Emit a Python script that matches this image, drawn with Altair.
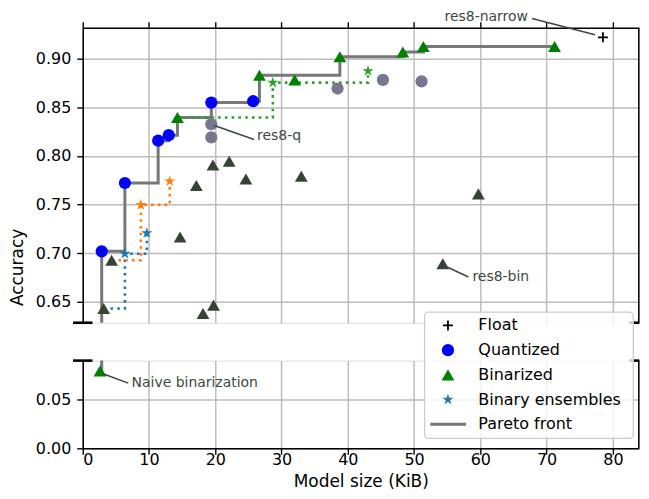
import altair as alt
import pandas as pd

# ---------------- data ----------------
x_ticks = [0, 10, 20, 30, 40, 50, 60, 70, 80]
top_y_ticks = [0.65, 0.70, 0.75, 0.80, 0.85, 0.90]
bottom_y_ticks = [0.00, 0.05]

float_x = [78.5]
float_y = [0.922]

quant_x = [2.86, 6.36, 11.38, 12.98, 19.40, 25.71]
quant_y = [0.7019, 0.7722, 0.8157, 0.8214, 0.8549, 0.8563]

quant_other_x = [19.40, 19.40, 38.45, 45.3, 51.13]
quant_other_y = [0.8327, 0.8191, 0.8693, 0.8782, 0.8767]

bin_x = [14.29, 26.66, 31.98, 38.8, 48.3, 51.4, 71.2]
bin_y = [0.8395, 0.8829, 0.8782, 0.902, 0.9069, 0.9126, 0.9126]

naive_x = [2.6]
naive_y = [0.0793]

bin_other_x = [19.65, 22.1, 17.14, 24.62, 32.98, 14.69, 4.36, 3.16, 18.15, 19.74, 59.7, 54.33]
bin_other_y = [0.7907, 0.7945, 0.7696, 0.7763, 0.7791, 0.7166, 0.6927, 0.6431, 0.6380, 0.6466, 0.761, 0.6892]

# binary ensembles: first entry is the base binarized model the chain starts from
ens_blue_x = [3.16, 6.36, 9.67]
ens_blue_y = [0.6431, 0.6995, 0.7207]
ens_orange_x = [4.36, 8.77, 13.13]
ens_orange_y = [0.6927, 0.7497, 0.774]
ens_green_x = [14.29, 28.68, 43.05]
ens_green_y = [0.8395, 0.8754, 0.8874]

pareto_x = [2.6, 2.86, 6.36, 11.38, 12.98, 14.29, 19.40, 25.71, 26.66, 38.8, 48.3, 51.4, 71.2]
pareto_y = [0.0793, 0.7019, 0.7722, 0.8157, 0.8214, 0.8395, 0.8549, 0.8563, 0.8829, 0.902, 0.9069, 0.9126, 0.9126]

annot_labels = ["res8-narrow", "res8-q", "res8-bin"]
annot_px = [77.3, 19.85, 54.99]
annot_py = [0.9246, 0.8314, 0.6859]
annot_lx = [67.8, 25.86, 58.2]
annot_ly = [0.9413, 0.817, 0.6756]
annot_tx = [54.6, 26.3, 58.8]
annot_ty = [0.9431, 0.8201, 0.6756]

naive_label = ["Naive binarization"]
naive_px = [2.86]
naive_py = [0.0771]
naive_lx = [6.87]
naive_ly = [0.0669]
naive_tx = [7.37]
naive_ty = [0.0666]

legend_labels = ["Float", "Quantized", "Binarized", "Binary ensembles", "Pareto front"]

# ---------------- styles ----------------
W = 558
H_TOP = 296
H_BOT = 88
FONT = "DejaVu Sans"
ANN = "#3c4a3e"
STAR = "M0,-1L0.225,-0.309L0.951,-0.309L0.363,0.118L0.588,0.809L0,0.382L-0.588,0.809L-0.363,0.118L-0.951,-0.309L-0.225,-0.309Z"
PLUS = "M-1,0L1,0M0,-1L0,1"
GRID = "#bcbcbc"

xscale = alt.Scale(domain=[0, 83.91], nice=False, zero=False)
ytop_scale = alt.Scale(domain=[0.6285, 0.9318], nice=False, zero=False)
ybot_scale = alt.Scale(domain=[0, 0.09], nice=False, zero=False)

common_axis = dict(grid=True, gridColor=GRID, gridWidth=1.5, domainColor="black", domainWidth=1.5,
                   tickColor="black", tickWidth=1.4, tickSize=6, labelFontSize=16, labelColor="black",
                   labelFont=FONT, titleFont=FONT, titleFontSize=17, titleFontWeight="normal",
                   titleColor="black")

xaxis_top = alt.Axis(orient="top", values=x_ticks, labels=False, title=None, **common_axis)
xaxis_bot = alt.Axis(orient="bottom", values=x_ticks, title="Model size (KiB)", labelPadding=-3,
                     titlePadding=6.5, **common_axis)
yaxis_top = alt.Axis(values=top_y_ticks, format=".2f", title="Accuracy", titleX=-65, titleY=240,
                     titleBaseline="middle", titleAngle=270, labelPadding=6, **common_axis)
yaxis_bot = alt.Axis(values=bottom_y_ticks, format=".2f", title=None, labelPadding=6, **common_axis)


def enc(panel, xf="x", yf="y"):
    if panel == "top":
        return dict(x=alt.X(xf, type="quantitative", scale=xscale, axis=xaxis_top),
                    y=alt.Y(yf, type="quantitative", scale=ytop_scale, axis=yaxis_top))
    return dict(x=alt.X(xf, type="quantitative", scale=xscale, axis=xaxis_bot),
                y=alt.Y(yf, type="quantitative", scale=ybot_scale, axis=yaxis_bot))


def df(xs, ys):
    return pd.DataFrame({"x": xs, "y": ys})


one = pd.DataFrame({"k": [0]})


def panel_layers(panel):
    layers = []
    # Pareto front
    layers.append(alt.Chart(df(pareto_x, pareto_y)).mark_line(
        interpolate="step-after", color="#777777", strokeWidth=3, clip=True).encode(**enc(panel)))
    if panel == "top":
        for xs, ys, col in [(ens_blue_x, ens_blue_y, "#1f77b4"),
                            (ens_orange_x, ens_orange_y, "#ff7f0e"),
                            (ens_green_x, ens_green_y, "#2ca02c")]:
            layers.append(alt.Chart(df(xs, ys)).mark_line(
                interpolate="step-after", color=col, strokeWidth=2.6, strokeDash=[2.6, 4.2],
                clip=True).encode(**enc(panel)))
        layers.append(alt.Chart(df(quant_other_x, quant_other_y)).mark_point(
            shape="circle", filled=True, size=150, color="#77778f", opacity=1).encode(**enc(panel)))
        layers.append(alt.Chart(df(bin_other_x, bin_other_y)).mark_point(
            shape="triangle-up", filled=True, size=165, color="#364436", opacity=1).encode(**enc(panel)))
        for xs, ys, col in [(ens_blue_x, ens_blue_y, "#1f77b4"),
                            (ens_orange_x, ens_orange_y, "#ff7f0e"),
                            (ens_green_x, ens_green_y, "#2ca02c")]:
            layers.append(alt.Chart(df(xs[1:], ys[1:])).mark_point(
                shape=STAR, filled=True, size=140, color=col, opacity=1).encode(**enc(panel)))
        layers.append(alt.Chart(df(bin_x, bin_y)).mark_point(
            shape="triangle-up", filled=True, size=165, color="#008000", opacity=1).encode(**enc(panel)))
        layers.append(alt.Chart(df(quant_x, quant_y)).mark_point(
            shape="circle", filled=True, size=150, color="#0000ff", opacity=1).encode(**enc(panel)))
        layers.append(alt.Chart(df(float_x, float_y)).mark_point(
            shape=PLUS, filled=False, size=100, color="black", strokeWidth=1.8, opacity=1).encode(**enc(panel)))
        ann = pd.DataFrame({"label": annot_labels, "px": annot_px, "py": annot_py,
                            "lx": annot_lx, "ly": annot_ly, "tx": annot_tx, "ty": annot_ty})
    else:
        layers.append(alt.Chart(df(naive_x, naive_y)).mark_point(
            shape="triangle-up", filled=True, size=165, color="#008000", opacity=1).encode(**enc(panel)))
        ann = pd.DataFrame({"label": naive_label, "px": naive_px, "py": naive_py,
                            "lx": naive_lx, "ly": naive_ly, "tx": naive_tx, "ty": naive_ty})
    e = enc(panel, "px", "py")
    layers.append(alt.Chart(ann).mark_rule(color=ANN, strokeWidth=1.6).encode(
        x=e["x"], y=e["y"], x2=alt.X2("lx"), y2=alt.Y2("ly")))
    e = enc(panel, "tx", "ty")
    layers.append(alt.Chart(ann).mark_text(align="left", baseline="middle", font=FONT, fontSize=14,
                                           color=ANN).encode(x=e["x"], y=e["y"], text="label:N"))
    h = H_TOP if panel == "top" else H_BOT
    # right spine
    layers.append(alt.Chart(one).mark_rule(color="black", strokeWidth=1.5).encode(
        x=alt.value(W), y=alt.value(0), y2=alt.value(h)))
    # axis-break markers
    by = h if panel == "top" else 0
    for x0, x1 in [(-9.75, 9.75), (W - 9.75, W + 0.5)]:
        layers.append(alt.Chart(one).mark_rule(color="black", strokeWidth=2.6).encode(
            x=alt.value(x0), x2=alt.value(x1), y=alt.value(by)))
    return layers


top = alt.layer(*panel_layers("top")).properties(width=W, height=H_TOP)

# ---------------- legend (drawn on top, in bottom panel's frame) ----------------
LX, ROW0, ROW = 366.5, -35.3, 24.8
rows = [ROW0 + i * ROW for i in range(len(legend_labels))]
leg = [alt.Chart(one).mark_rect(fill="white", fillOpacity=0.8, stroke="#cccccc", strokeWidth=1.3,
                                cornerRadius=4).encode(
    x=alt.value(343), x2=alt.value(552.5), y=alt.value(-48.6), y2=alt.value(78))]
leg.append(alt.Chart(one).mark_point(shape=PLUS, filled=False, size=100, color="black",
                                     strokeWidth=1.8, opacity=1).encode(x=alt.value(LX), y=alt.value(rows[0])))
leg.append(alt.Chart(one).mark_point(shape="circle", filled=True, size=150, color="#0000ff",
                                     opacity=1).encode(x=alt.value(LX), y=alt.value(rows[1])))
leg.append(alt.Chart(one).mark_point(shape="triangle-up", filled=True, size=165, color="#008000",
                                     opacity=1).encode(x=alt.value(LX), y=alt.value(rows[2])))
leg.append(alt.Chart(one).mark_point(shape=STAR, filled=True, size=140, color="#1f77b4",
                                     opacity=1).encode(x=alt.value(LX), y=alt.value(rows[3])))
leg.append(alt.Chart(one).mark_rule(color="#777777", strokeWidth=3).encode(
    x=alt.value(348.7), x2=alt.value(384.7), y=alt.value(rows[4])))
leg_df = pd.DataFrame({"label": legend_labels, "py": rows})
leg.append(alt.Chart(leg_df).mark_text(align="left", baseline="middle", font=FONT, fontSize=16,
                                       color="black").encode(
    x=alt.value(397), y=alt.Y("py:Q", scale=None, axis=None), text="label:N"))

bottom = alt.layer(*panel_layers("bottom"), *leg).properties(width=W, height=H_BOT)

chart = alt.vconcat(top, bottom, spacing=38, bounds="flush").properties(
    padding={"left": 0, "top": 0, "right": -0.8, "bottom": 0}
).configure_view(stroke=None).configure(font=FONT)

chart.save("out.html", embed_options={"renderer": "svg", "actions": False})
